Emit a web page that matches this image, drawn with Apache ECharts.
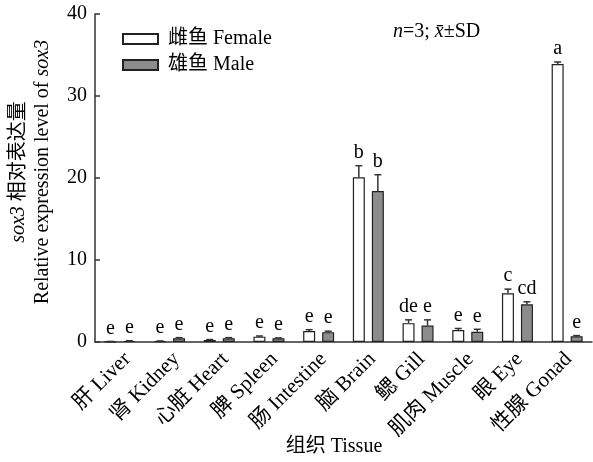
<!DOCTYPE html>
<html>
<head>
<meta charset="utf-8">
<script src="https://cdn.jsdelivr.net/npm/echarts@6/dist/echarts.min.js"></script>
<style>
  html, body { margin: 0; padding: 0; background: #fff; }
  #chart { width: 593px; height: 462px; }
</style>
</head>
<body>
<div id="chart"></div>
<script>
// Tissues on the x axis
const tissues = ['肝 Liver', '肾 Kidney', '心脏 Heart', '脾 Spleen', '肠 Intestine',
                 '脑 Brain', '鳃 Gill', '肌肉 Muscle', '眼 Eye', '性腺 Gonad'];

// Mean relative expression of sox3 and standard deviations
const femaleMean = [0.05, 0.1, 0.25, 0.65, 1.35, 20.1, 2.3, 1.45, 5.95, 33.9];
const femaleSD   = [0.02, 0.03, 0.05, 0.08, 0.15, 1.4, 0.4, 0.2, 0.5, 0.25];
const maleMean   = [0.12, 0.45, 0.45, 0.45, 1.2, 18.4, 2.0, 1.25, 4.6, 0.7];
const maleSD     = [0.03, 0.08, 0.08, 0.05, 0.12, 2.0, 0.7, 0.3, 0.3, 0.08];

// Significance letters
const femaleSig = ['e', 'e', 'e', 'e', 'e', 'b', 'de', 'e', 'c', 'a'];
const maleSig   = ['e', 'e', 'e', 'e', 'e', 'b', 'e', 'e', 'cd', 'e'];

// Y axis ticks
const yTicks = [0, 10, 20, 30, 40];

const FONT = "'Liberation Serif', 'Noto Sans CJK SC', serif";
const BAR_W = 12;
const BAR_GAP = 7;
const HALF = (BAR_W + BAR_GAP) / 2;

const chart = echarts.init(document.getElementById('chart'), null, { renderer: 'canvas' });

function errorSeries(means, sds, sigs, side) {
  return {
    type: 'custom',
    z: 5,
    data: means.map((m, i) => [i, m, sds[i]]),
    renderItem: function (params, api) {
      const idx = api.value(0);
      const mean = api.value(1);
      const sd = api.value(2);
      const top = api.coord([idx, mean]);
      const hi = api.coord([idx, mean + sd]);
      const x = top[0] + side * HALF;
      const capHalf = 3.5;
      return {
        type: 'group',
        children: [
          { type: 'line', shape: { x1: x, y1: top[1], x2: x, y2: hi[1] },
            style: { stroke: '#333', lineWidth: 1.5 } },
          { type: 'line', shape: { x1: x - capHalf, y1: hi[1], x2: x + capHalf, y2: hi[1] },
            style: { stroke: '#333', lineWidth: 1.5 } },
          { type: 'text', x: x, y: hi[1] - 3,
            style: { text: sigs[params.dataIndex], font: '20px ' + FONT, fill: '#000',
                     align: 'center', verticalAlign: 'bottom' } }
        ]
      };
    }
  };
}

const option = {
  animation: false,
  backgroundColor: '#fff',
  grid: [
    { left: 95, top: 14, width: 497, height: 328 },
    // tissue names: same band width, nudged right so each name ends just past its bars
    { left: 103, top: 14, width: 497, height: 328 }
  ],
  xAxis: [
    {
      type: 'category',
      gridIndex: 0,
      data: tissues,
      axisLine: { lineStyle: { color: '#333', width: 1.5 } },
      axisTick: { show: false },
      axisLabel: { show: false }
    },
    {
      type: 'category',
      gridIndex: 1,
      data: tissues,
      axisLine: { show: false },
      axisTick: { show: false },
      axisLabel: { rotate: 45, margin: 14, color: '#000', fontSize: 21, fontFamily: FONT, interval: 0 }
    }
  ],
  yAxis: [
    {
      type: 'value',
      gridIndex: 0,
      min: yTicks[0],
      max: yTicks[yTicks.length - 1],
      interval: 10,
      axisLine: { show: true, lineStyle: { color: '#333', width: 1.5 } },
      axisTick: { show: true, inside: true, length: 5, lineStyle: { color: '#333', width: 1.5 } },
      axisLabel: { color: '#000', fontSize: 20, fontFamily: FONT, margin: 8 },
      splitLine: { show: false }
    },
    {
      type: 'value',
      gridIndex: 1,
      show: false,
      min: 0, max: 40
    }
  ],
  legend: {
    left: 117, top: 24,
    orient: 'vertical',
    icon: 'rect',
    itemWidth: 35, itemHeight: 10, itemGap: 6,
    textStyle: { color: '#000', fontSize: 20, fontFamily: FONT, padding: [0, 0, 0, 5] },
    data: ['雌鱼 Female', '雄鱼 Male']
  },
  graphic: [
    {
      type: 'text', left: 393, top: 22,
      style: {
        rich: {
          i: { fontFamily: FONT, fontStyle: 'italic', fontSize: 20, fill: '#000' },
          n: { fontFamily: FONT, fontSize: 20, fill: '#000' }
        },
        text: '{i|n}{n|=3; }{i|x̄}{n|±SD}'
      }
    },
    {
      type: 'text', x: 31, y: 172, rotation: Math.PI / 2,
      style: {
        align: 'center', verticalAlign: 'middle', lineHeight: 24,
        rich: {
          i: { fontFamily: FONT, fontStyle: 'italic', fontSize: 20, fill: '#000', lineHeight: 24 },
          n: { fontFamily: FONT, fontSize: 20, fill: '#000', lineHeight: 24 }
        },
        text: '{i|sox3}{n| 相对表达量}\n{n|Relative expression level of }{i|sox3}'
      }
    },
    {
      type: 'text', x: 334, y: 447,
      style: { text: '组织 Tissue', font: '20px ' + FONT, fill: '#000',
               align: 'center', verticalAlign: 'middle' }
    }
  ],
  series: [
    {
      name: '雌鱼 Female', type: 'bar', data: femaleMean,
      barWidth: BAR_W, barGap: (BAR_GAP / BAR_W * 100) + '%',
      itemStyle: { color: '#fff', borderColor: '#222', borderWidth: 1.2 }
    },
    {
      name: '雄鱼 Male', type: 'bar', data: maleMean,
      barWidth: BAR_W,
      itemStyle: { color: '#8c8c8c', borderColor: '#222', borderWidth: 1.2 }
    },
    errorSeries(femaleMean, femaleSD, femaleSig, -1),
    errorSeries(maleMean, maleSD, maleSig, 1)
  ]
};

chart.setOption(option);
</script>
</body>
</html>
